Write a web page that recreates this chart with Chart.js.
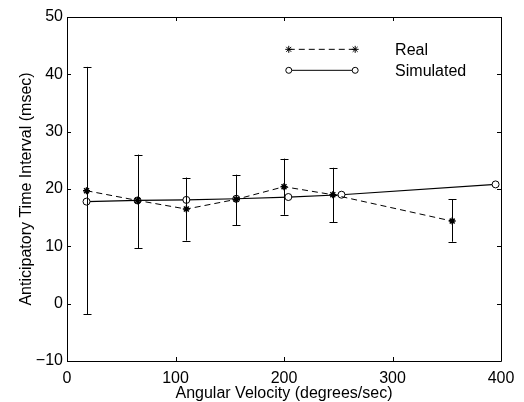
<!DOCTYPE html>
<html>
<head>
<meta charset="utf-8">
<script src="https://cdn.jsdelivr.net/npm/chart.js@4/dist/chart.umd.min.js"></script>
<style>
html,body{margin:0;padding:0;background:#fff;}
#wrap{width:524px;height:402px;position:relative;}
</style>
</head>
<body>
<div id="wrap"><canvas id="c" width="524" height="402"></canvas></div>
<script>
// ---- data ----
const realX = [18, 65, 110, 156, 200, 245, 355];
const realY = [19.7, 18.0, 16.5, 18.2, 20.4, 19.0, 14.4];
const realErrLow = [-1.8, 9.7, 11.0, 13.7, 15.5, 14.2, 10.8];
const realErrHigh = [41.3, 26.0, 22.0, 22.5, 25.3, 23.7, 18.2];
const simX = [18, 65, 110, 156, 204, 253, 395];
const simY = [17.8, 18.0, 18.1, 18.3, 18.6, 19.0, 20.8];
const xTicks = [0, 100, 200, 300, 400];
const yTicks = [-10, 0, 10, 20, 30, 40, 50];
const seriesNames = ['Real', 'Simulated'];

const FONT = '"Liberation Sans", Arial, Helvetica, sans-serif';

const realData = realX.map((x, i) => ({x: x, y: realY[i]}));
const simData = simX.map((x, i) => ({x: x, y: simY[i]}));

const framePlugin = {
  id: 'frame',
  afterDatasetsDraw(chart) {
    const ctx = chart.ctx;
    const xs = chart.scales.x, ys = chart.scales.y;
    const a = chart.chartArea;
    ctx.save();
    ctx.strokeStyle = '#000';
    ctx.lineWidth = 1;
    // error bars
    realX.forEach((x, i) => {
      const px = Math.round(xs.getPixelForValue(x)) + 0.5;
      const pl = ys.getPixelForValue(realErrLow[i]);
      const ph = ys.getPixelForValue(realErrHigh[i]);
      ctx.beginPath();
      ctx.moveTo(px, pl); ctx.lineTo(px, ph);
      ctx.moveTo(px - 4, Math.round(pl) + 0.5); ctx.lineTo(px + 4, Math.round(pl) + 0.5);
      ctx.moveTo(px - 4, Math.round(ph) + 0.5); ctx.lineTo(px + 4, Math.round(ph) + 0.5);
      ctx.stroke();
    });
    // box
    ctx.beginPath();
    ctx.rect(Math.round(a.left) + 0.5, Math.round(a.top) + 0.5, Math.round(a.right - a.left), Math.round(a.bottom - a.top));
    ctx.stroke();
    // inward ticks
    ctx.beginPath();
    xTicks.forEach(v => {
      const p = Math.round(xs.getPixelForValue(v)) + 0.5;
      ctx.moveTo(p, a.bottom); ctx.lineTo(p, a.bottom - 4);
      ctx.moveTo(p, a.top); ctx.lineTo(p, a.top + 4);
    });
    yTicks.forEach(v => {
      const p = Math.round(ys.getPixelForValue(v)) + 0.5;
      ctx.moveTo(a.left, p); ctx.lineTo(a.left + 4, p);
      ctx.moveTo(a.right, p); ctx.lineTo(a.right - 4, p);
    });
    ctx.stroke();
    ctx.restore();
  },
  afterDraw(chart) {
    const ctx = chart.ctx;
    const a = chart.chartArea;
    const w = a.right - a.left, h = a.bottom - a.top;
    const x0 = a.left + w * 0.511, x1 = a.left + w * 0.664, tx = a.left + w * 0.756;
    const rows = [a.top + h * 0.094, a.top + h * 0.155];
    ctx.save();
    ctx.strokeStyle = '#000';
    ctx.fillStyle = '#000';
    ctx.lineWidth = 1;
    // Real
    ctx.setLineDash([6, 4]);
    ctx.beginPath(); ctx.moveTo(x0, rows[0]); ctx.lineTo(x1, rows[0]); ctx.stroke();
    ctx.setLineDash([]);
    [x0, x1].forEach(x => {
      Chart.helpers.drawPoint(ctx, {pointStyle: 'star', radius: 3.5, rotation: 0, borderWidth: 1.5}, x, rows[0]);
    });
    // Simulated
    ctx.beginPath(); ctx.moveTo(x0, rows[1]); ctx.lineTo(x1, rows[1]); ctx.stroke();
    ctx.fillStyle = '#fff';
    [x0, x1].forEach(x => {
      ctx.beginPath(); ctx.arc(x, rows[1], 3, 0, Math.PI * 2); ctx.fill(); ctx.stroke();
    });
    ctx.fillStyle = '#000';
    ctx.font = '16px ' + FONT;
    ctx.textBaseline = 'middle';
    ctx.textAlign = 'left';
    ctx.fillText(seriesNames[0], tx, rows[0] + 1);
    ctx.fillText(seriesNames[1], tx, rows[1] + 1.5);
    ctx.restore();
  }
};

new Chart(document.getElementById('c'), {
  type: 'scatter',
  data: {
    datasets: [
      {
        label: seriesNames[0],
        data: realData,
        showLine: true,
        borderColor: '#000',
        backgroundColor: '#000',
        borderWidth: 1,
        borderDash: [6, 4],
        pointStyle: 'star',
        pointRadius: 3.5,
        pointBorderWidth: 1.5,
        pointHoverRadius: 3.5
      },
      {
        label: seriesNames[1],
        data: simData,
        showLine: true,
        borderColor: '#000',
        backgroundColor: '#fff',
        borderWidth: 1.2,
        pointStyle: 'circle',
        pointRadius: 3.5,
        pointBorderWidth: 1,
        pointHoverRadius: 3.5
      }
    ]
  },
  options: {
    responsive: false,
    animation: false,
    events: [],
    layout: {padding: {left: 0, top: 17, right: 23, bottom: 0}},
    plugins: {legend: {display: false}, tooltip: {enabled: false}},
    scales: {
      x: {
        type: 'linear',
        min: 0, max: 400,
        afterBuildTicks: s => { s.ticks = xTicks.map(v => ({value: v})); },
        afterFit: s => { s.height = 41; },
        grid: {display: false, drawTicks: false},
        border: {display: false},
        ticks: {color: '#000', font: {family: FONT, size: 16}, padding: 8, maxRotation: 0},
        title: {display: true, text: 'Angular Velocity (degrees/sec)', color: '#000', font: {family: FONT, size: 16}, padding: {top: 0, bottom: -1}}
      },
      y: {
        type: 'linear',
        min: -10, max: 50,
        afterBuildTicks: s => { s.ticks = yTicks.map(v => ({value: v})); },
        afterFit: s => { s.width = 67; },
        grid: {display: false, drawTicks: false},
        border: {display: false},
        ticks: {color: '#000', font: {family: FONT, size: 16}, padding: 4,
          callback: v => (v < 0 ? '\u2212' + Math.abs(v) : String(v))},
        title: {display: true, text: 'Anticipatory Time Interval (msec)', color: '#000', font: {family: FONT, size: 16}, padding: {top: 17, bottom: 0}}
      }
    }
  },
  plugins: [framePlugin]
});
</script>
</body>
</html>
